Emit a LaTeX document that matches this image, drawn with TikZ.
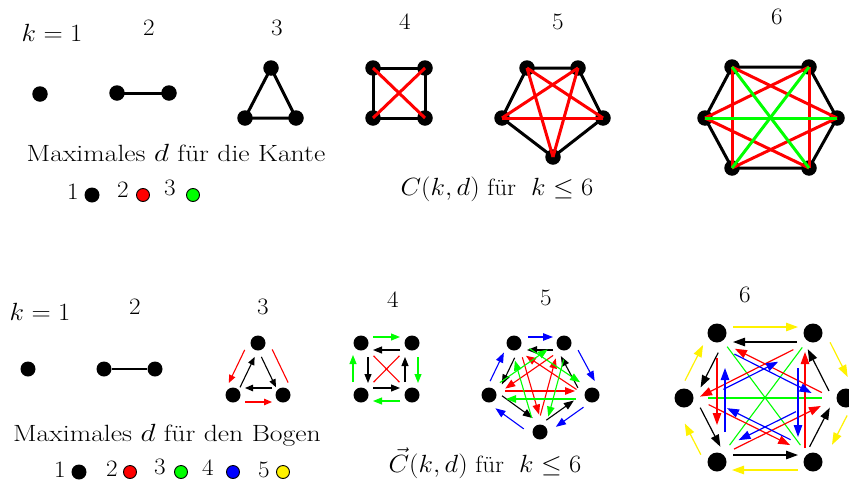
\documentclass[tikz,border=0pt]{standalone}
\usepackage{graphicx}
\usetikzlibrary{arrows.meta,calc}
\newcommand\tx[1]{\scalebox{1.07}[1]{#1}}
\newcommand\txw[1]{\scalebox{1.18}[1]{#1}}
% #2 from, #3 to, #4 shorten at start, #5 shorten at end, #6 offset (positive = left of travel)
\newcommand\arcx[6][]{\draw[#1] ($(#2)!#4pt!(#3)!#6pt!90:(#3)$) -- ($(#3)!#5pt!(#2)!#6pt!-90:(#2)$);}
\tikzset{
  lab/.style={font=\fontsize{23.5}{28}\selectfont, inner sep=0pt},
  tdot/.style={circle, fill=black, inner sep=0pt, minimum size=15.5pt},
  bdot/.style={circle, fill=black, inner sep=0pt, minimum size=15pt},
  hdot/.style={circle, fill=black, inner sep=0pt, minimum size=19pt},
  edgeT/.style={line width=3pt},
  lgc/.style={circle, draw=black, line width=0.9pt, inner sep=0pt, minimum size=13pt},
  lgb/.style={circle, fill=black, inner sep=0pt, minimum size=15pt},
  thinl/.style={line width=1.1pt},
  aa/.style={line width=1.1pt, -{Triangle[length=8pt,width=6.5pt]}},
  ab/.style={line width=1.1pt, -{Triangle[length=9pt,width=7pt]}},
  ac/.style={line width=1.1pt, -{Triangle[length=10pt,width=7.5pt]}},
  ad/.style={line width=1.2pt, -{Triangle[length=12pt,width=8.5pt]}},
}
\begin{document}
\begin{tikzpicture}[x=1pt,y=-1pt]
\fill[white] (0,0) rectangle (849,485);
\useasboundingbox (0,0) rectangle (849,485);

% ---------------- top row: labels ----------------
\node[lab] (t1) at (52,33) {\tx{$k=1$}};
\node[lab] (t2) at (149,28) {\tx{2}};
\node[lab] (t3) at (277,28) {\tx{3}};
\node[lab] (t4) at (405,22) {\tx{4}};
\node[lab] (t5) at (558,22) {\tx{5}};
\node[lab] (t6) at (777,17) {\tx{6}};

% top nodes
\node[tdot] (a1) at (40,94) {};
\node[tdot] (b1) at (117,93) {};
\node[tdot] (b2) at (169,93) {};
\node[tdot] (c1) at (271,68) {};
\node[tdot] (c2) at (245,118) {};
\node[tdot] (c3) at (296,118) {};
\node[tdot] (d1) at (373,68) {};
\node[tdot] (d2) at (425,68) {};
\node[tdot] (d3) at (425,118) {};
\node[tdot] (d4) at (373,118) {};
\node[tdot] (e1) at (527,68) {};
\node[tdot] (e2) at (578,68) {};
\node[tdot] (e3) at (603,118) {};
\node[tdot] (e4) at (553,157) {};
\node[tdot] (e5) at (502,118) {};
\node[tdot] (f1) at (732,67) {};
\node[tdot] (f2) at (809,67) {};
\node[tdot] (f3) at (837,118) {};
\node[tdot] (f4) at (809,168) {};
\node[tdot] (f5) at (732,168) {};
\node[tdot] (f6) at (705,118) {};

% top edges
\draw[edgeT] (b1.center) -- (b2.center);
\draw[edgeT] (c1.center) -- (c2.center) -- (c3.center) -- cycle;
\draw[edgeT] (d1.center) -- (d2.center) -- (d3.center) -- (d4.center) -- cycle;
\draw[edgeT] (e1.center) -- (e2.center) -- (e3.center) -- (e4.center) -- (e5.center) -- cycle;
\draw[edgeT] (f1.center) -- (f2.center) -- (f3.center) -- (f4.center) -- (f5.center) -- (f6.center) -- cycle;
\draw[edgeT,red] (d1.center) -- (d3.center);
\draw[edgeT,red] (d2.center) -- (d4.center);
\draw[edgeT,red] (e1.center) -- (e3.center);
\draw[edgeT,red] (e1.center) -- (e4.center);
\draw[edgeT,red] (e2.center) -- (e4.center);
\draw[edgeT,red] (e2.center) -- (e5.center);
\draw[edgeT,red] (e3.center) -- (e5.center);
\draw[edgeT,red] (f1.center) -- (f3.center);
\draw[edgeT,red] (f2.center) -- (f4.center);
\draw[edgeT,red] (f3.center) -- (f5.center);
\draw[edgeT,red] (f4.center) -- (f6.center);
\draw[edgeT,red] (f5.center) -- (f1.center);
\draw[edgeT,red] (f6.center) -- (f2.center);
\draw[edgeT,green] (f1.center) -- (f4.center);
\draw[edgeT,green] (f2.center) -- (f5.center);
\draw[edgeT,green] (f3.center) -- (f6.center);

% top texts
\node[lab,anchor=base] (tt1) at (176,161) {\txw{Maximales $d$ für die Kante}};
\node[lab] (tl1) at (73,192) {\tx{1}};
\node[lgb] (tc1) at (92,195) {};
\node[lab] (tl2) at (123,190) {\tx{2}};
\node[lgc,fill=red] (tc2) at (143,195) {};
\node[lab] (tl3) at (170,188) {\tx{3}};
\node[lgc,fill=green] (tc3) at (193,195) {};
\node[lab,anchor=base] (tt2) at (497,195) {\tx{$C(k,d)$ für~ $k\le 6$}};

% ---------------- bottom row ----------------
\node[lab] (u1) at (40,312) {\tx{$k=1$}};
\node[lab] (u2) at (135,307) {\tx{2}};
\node[lab] (u3) at (263,307) {\tx{3}};
\node[lab] (u4) at (393,300) {\tx{4}};
\node[lab] (u5) at (546,298) {\tx{5}};
\node[lab] (u6) at (745,295) {\tx{6}};

\node[bdot] (g1) at (28,369) {};
\node[bdot] (h1) at (104,369) {};
\node[bdot] (h2) at (155,369) {};
\node[bdot] (i1) at (258,343) {};
\node[bdot] (i2) at (233,395) {};
\node[bdot] (i3) at (283,395) {};
\node[bdot] (j1) at (361,343) {};
\node[bdot] (j2) at (412,343) {};
\node[bdot] (j3) at (412,395) {};
\node[bdot] (j4) at (361,395) {};
\node[bdot] (m1) at (514,343) {};
\node[bdot] (m2) at (564,343) {};
\node[bdot] (m3) at (592,395) {};
\node[bdot] (m4) at (540,432) {};
\node[bdot] (m5) at (489,395) {};
\node[hdot] (n1) at (717,333) {};
\node[hdot] (n2) at (813,333) {};
\node[hdot] (n3) at (846,398) {};
\node[hdot] (n4) at (813,462) {};
\node[hdot] (n5) at (717,462) {};
\node[hdot] (n6) at (684,398) {};

% k=2
\draw[line width=1.4pt] (h1) -- (h2);

% k=3
\arcx[aa]{i2}{i1}{10}{14}{-3}
\arcx[aa]{i1}{i3}{14}{10}{-3}
\arcx[aa]{i3}{i2}{11}{12}{-7}
\arcx[aa,red]{i1}{i2}{12}{9}{-9}
\arcx[aa,red]{i2}{i3}{12}{11}{-7}
\arcx[thinl,red]{i3}{i1}{9}{12}{-10}

% k=4
\arcx[ab]{j1}{j4}{14}{12}{7}
\arcx[ab]{j4}{j3}{12}{12}{7}
\arcx[ab]{j3}{j2}{13}{14}{7}
\arcx[ab]{j2}{j1}{12}{12}{7}
\arcx[ab,green]{j1}{j2}{12}{12}{6}
\arcx[ab,green]{j2}{j3}{14}{12}{6}
\arcx[ab,green]{j3}{j4}{12}{12}{6}
\arcx[ab,green]{j4}{j1}{13}{12}{8}
\arcx[thinl,red]{j1}{j3}{18}{18}{0}
\arcx[thinl,red]{j2}{j4}{18}{18}{0}

% k=5
\arcx[ac,blue]{m1}{m2}{14}{11}{6}
\arcx[ac,blue]{m2}{m3}{13}{11}{9}
\arcx[ac,blue]{m3}{m4}{14}{16}{5}
\arcx[ac,blue]{m4}{m5}{15}{13}{7}
\arcx[ac,blue]{m5}{m1}{13}{13}{5}
\arcx[ac]{m2}{m1}{11}{13}{7}
\arcx[ac]{m1}{m5}{13}{15}{7}
\arcx[ac]{m5}{m4}{11}{14}{7}
\arcx[ac]{m4}{m3}{12}{18}{6}
\arcx[ac]{m3}{m2}{13}{10}{9}
\arcx[ac,red]{m1}{m4}{16}{17}{4}
\arcx[ac,red]{m4}{m2}{16}{17}{4}
\arcx[ac,red]{m2}{m5}{16}{17}{4}
\arcx[ac,red]{m5}{m3}{16}{17}{4}
\arcx[ac,red]{m3}{m1}{16}{17}{4}
\arcx[ac,green]{m4}{m1}{16}{17}{4}
\arcx[ac,green]{m2}{m4}{16}{17}{4}
\arcx[ac,green]{m5}{m2}{16}{17}{4}
\arcx[ac,green]{m3}{m5}{16}{17}{4}
\arcx[ac,green]{m1}{m3}{16}{17}{4}

% k=6
\arcx[ad,yellow]{n1}{n2}{16}{15}{6}
\arcx[ad,yellow]{n2}{n3}{16}{18}{11}
\arcx[ad,yellow]{n3}{n4}{15}{24}{9}
\arcx[ad,yellow]{n4}{n5}{15}{15}{8}
\arcx[ad,yellow]{n5}{n6}{14}{23}{11}
\arcx[ad,yellow]{n6}{n1}{16}{17}{7}
\arcx[ad]{n2}{n1}{16}{16}{9}
\arcx[ad]{n1}{n6}{17}{17}{10}
\arcx[ad]{n6}{n5}{16}{12}{10}
\arcx[ad]{n5}{n4}{16}{15}{7}
\arcx[ad]{n4}{n3}{12}{16}{10}
\arcx[ad]{n3}{n2}{14}{12}{12}
\arcx[thinl,green]{n1}{n4}{17}{21}{0}
\arcx[thinl,green]{n2}{n5}{18}{21}{0}
\arcx[line width=2pt,green]{n6}{n3}{24}{24}{0}
\arcx[ad,red]{n1}{n5}{25}{37}{0}
\arcx[ad,red]{n4}{n2}{14}{19}{8}
\arcx[ad,red]{n2}{n6}{25}{15}{6}
\arcx[ad,red]{n3}{n1}{24}{23}{6}
\arcx[ad,red]{n6}{n4}{25}{28}{5}
\arcx[ad,red]{n5}{n3}{21}{26}{4}
\arcx[ad,blue]{n5}{n1}{30}{35}{-8}
\arcx[ad,blue]{n2}{n4}{35}{25}{-15}
\arcx[ad,blue]{n1}{n3}{25}{33}{-11}
\arcx[ad,blue]{n6}{n2}{39}{44}{-10}
\arcx[ad,blue]{n3}{n5}{51}{29}{-10}
\arcx[ad,blue]{n4}{n6}{30}{43}{-10}

% bottom texts
\node[lab,anchor=base] (bt1) at (167,441) {\txw{Maximales $d$ für den Bogen}};
\node[lab] (bl1) at (60,470) {\tx{1}};
\node[lgb] (bc1) at (79,472) {};
\node[lab] (bl2) at (112,469) {\tx{2}};
\node[lgc,fill=red] (bc2) at (130,472) {};
\node[lab] (bl3) at (160,467) {\tx{3}};
\node[lgc,fill=green] (bc3) at (181,472) {};
\node[lab] (bl4) at (208,468) {\tx{4}};
\node[lgc,fill=blue] (bc4) at (233,472) {};
\node[lab] (bl5) at (264,470) {\tx{5}};
\node[lgc,fill=yellow] (bc5) at (283,472) {};
\node[lab,anchor=base] (bt2) at (485,472) {\tx{$\vec{C}(k,d)$ für~ $k\le 6$}};
\end{tikzpicture}
\end{document}
